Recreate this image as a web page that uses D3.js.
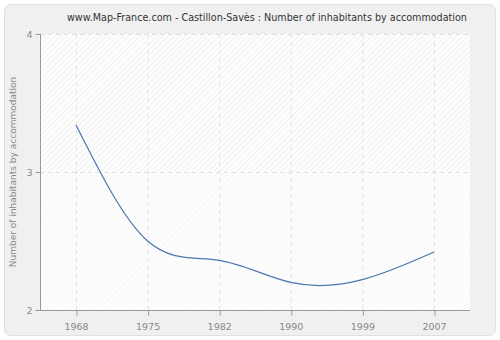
<!DOCTYPE html>
<html><head><meta charset="utf-8">
<script src="https://cdn.jsdelivr.net/npm/d3@7"></script>
<style>body{margin:0;background:#fff}svg{display:block}</style>
</head><body>
<svg id="c" width="500" height="340"></svg>
<script>
const title = "www.Map-France.com - Castillon-Savès : Number of inhabitants by accommodation";
const yLabel = "Number of inhabitants by accommodation";
const years = ["1968", "1975", "1982", "1990", "1999", "2007"];
const values = [3.34, 2.5, 2.36, 2.2, 2.22, 2.42];
const yTicks = [2, 3, 4];

const svg = d3.select("#c");
const W = 500, H = 340;
const defs = svg.append("defs");
function hatch(id, col) {
  const p = defs.append("pattern").attr("id", id).attr("patternUnits", "userSpaceOnUse")
    .attr("width", 4).attr("height", 4).attr("patternTransform", "rotate(45)");
  p.append("rect").attr("width", 4).attr("height", 4).attr("fill", "#fdfdfd");
  p.append("line").attr("x1", 0).attr("y1", 0).attr("x2", 0).attr("y2", 4)
    .attr("stroke", col).attr("stroke-width", 1);
}
hatch("h1", "#e6e6e6");
hatch("h2", "#f1f1f1");

svg.append("rect").attr("x", 4.5).attr("y", 4.5).attr("width", W - 9).attr("height", H - 9)
  .attr("rx", 6).attr("fill", "#f0f0f0").attr("stroke", "#e0e0e0");

const x = d3.scalePoint().domain(years).range([76, 434]);
const y = d3.scaleLinear().domain([2, 4]).range([310, 34]);
const x0 = 40, x1 = 470;

svg.append("rect").attr("x", x0).attr("y", y(4)).attr("width", x1 - x0).attr("height", y(3) - y(4))
  .attr("fill", "url(#h1)");
svg.append("rect").attr("x", x0).attr("y", y(3)).attr("width", x1 - x0).attr("height", y(2) - y(3))
  .attr("fill", "url(#h2)");

// grid
const g = svg.append("g");
g.selectAll(".vg").data(years).join("line")
  .attr("x1", d => x(d) + 0.5).attr("x2", d => x(d) + 0.5).attr("y1", y(4)).attr("y2", y(2))
  .attr("stroke", "#e0e0e0").attr("stroke-dasharray", "4,4");
g.selectAll(".hg").data(yTicks).join("line")
  .attr("x1", x0).attr("x2", x1).attr("y1", d => y(d) + 0.5).attr("y2", d => y(d) + 0.5)
  .attr("stroke", "#e0e0e0").attr("stroke-dasharray", "4,4");

// axes
const xa = svg.append("g").attr("transform", `translate(0,${y(2) + 0.5})`)
  .call(d3.axisBottom(x).tickSize(5).tickSizeOuter(0));
xa.select(".domain").remove();
xa.append("line").attr("x1", x0).attr("x2", x1).attr("stroke", "#999");
xa.selectAll(".tick line").attr("stroke", "#999").attr("transform", "translate(0.5,0)");
xa.selectAll("text").attr("fill", "#888").attr("font-family", "DejaVu Sans, sans-serif")
  .attr("font-size", 9.5).attr("dy", "1.2em");

const ya = svg.append("g").attr("transform", `translate(${x0 + 0.5},0)`)
  .call(d3.axisLeft(y).tickValues(yTicks).tickFormat(d3.format("d")).tickSize(5).tickSizeOuter(0));
ya.select(".domain").remove();
ya.append("line").attr("y1", y(4)).attr("y2", y(2)).attr("stroke", "#999");
ya.selectAll(".tick line").attr("stroke", "#999");
ya.selectAll("text").attr("fill", "#888").attr("font-family", "DejaVu Sans, sans-serif")
  .attr("font-size", 9.5);

// line
svg.append("path").datum(values)
  .attr("d", d3.line().x((d, i) => x(years[i])).y(d => y(d)).curve(d3.curveNatural))
  .attr("fill", "none").attr("stroke", "#4a77b0").attr("stroke-width", 1.2);

svg.append("text").attr("x", 267).attr("y", 21).attr("text-anchor", "middle")
  .attr("font-family", "DejaVu Sans, sans-serif").attr("font-size", 9.6).attr("fill", "#333")
  .text(title);
svg.append("text").attr("transform", `translate(16,${(y(2) + y(4)) / 2}) rotate(-90)`)
  .attr("text-anchor", "middle").attr("font-family", "DejaVu Sans, sans-serif")
  .attr("font-size", 9).attr("fill", "#888").text(yLabel);
</script>
</body></html>
